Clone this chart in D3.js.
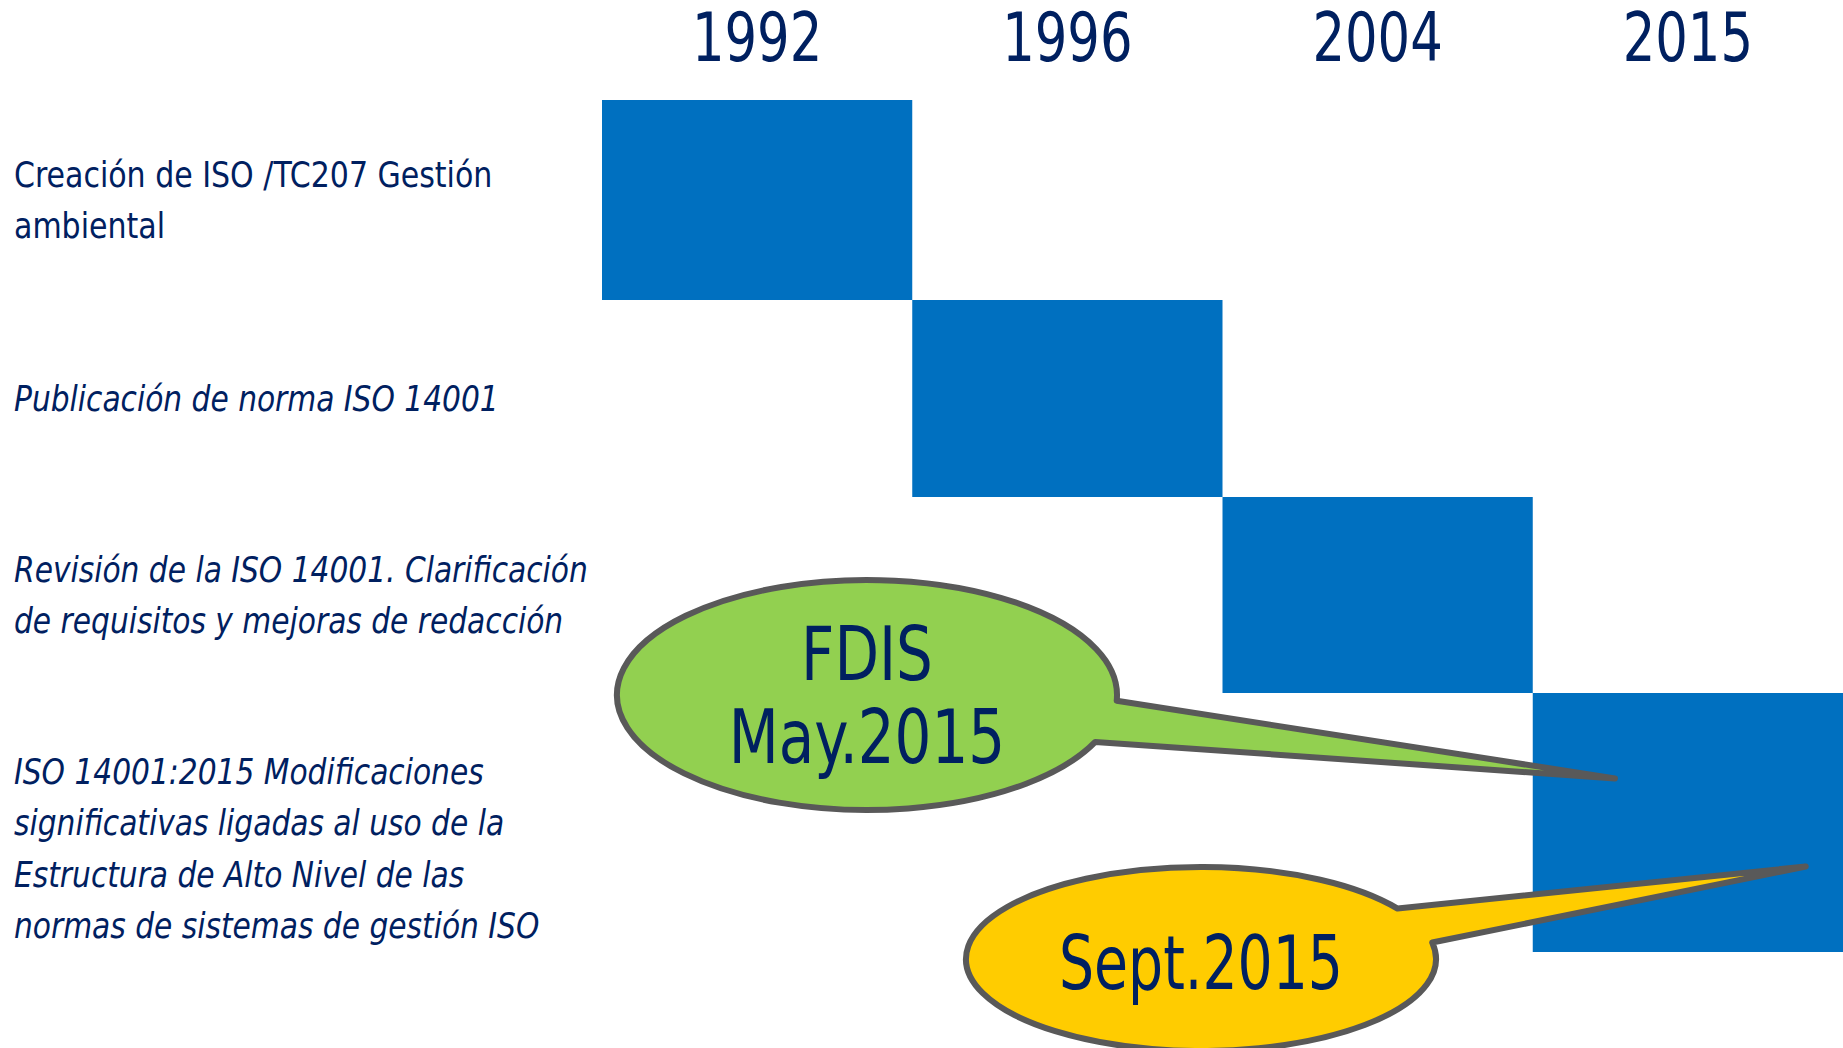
<!DOCTYPE html>
<html><head><meta charset="utf-8">
<script src="https://cdn.jsdelivr.net/npm/d3@7"></script>
<style>
html,body{margin:0;padding:0;background:#fff;overflow:hidden;}
text{font-family:"DejaVu Sans Condensed","DejaVu Sans",sans-serif;font-stretch:condensed;}
</style></head>
<body>
<svg id="chart" width="1843" height="1048"></svg>
<script>
// ---- data ----
const years = ["1992", "1996", "2004", "2015"];
const milestoneLines = [
  ["Creación de ISO /TC207 Gestión", "ambiental"],
  ["Publicación de norma ISO 14001"],
  ["Revisión de la ISO 14001. Clarificación", "de requisitos y mejoras de redacción"],
  ["ISO 14001:2015 Modificaciones", "significativas ligadas al uso de la", "Estructura de Alto Nivel de las", "normas de sistemas de gestión ISO"]
];
const milestoneItalic = [false, true, true, true];
const callouts = [
  {lines: ["FDIS", "May.2015"], fill: "#92d050"},
  {lines: ["Sept.2015"], fill: "#ffcc00"}
];

// ---- layout ----
const navy = "#002060", barColor = "#0070c0";
const svg = d3.select("#chart");

const x = d3.scaleBand().domain(years).range([602, 1843]).paddingInner(0).paddingOuter(0);
const y = d3.scaleLinear().domain([0, 1, 2, 3, 4]).range([100, 300, 497, 693, 952]);

// year headers
svg.selectAll("text.year").data(years).join("text")
  .attr("class", "year")
  .attr("transform", d => `translate(${x(d) + x.bandwidth() / 2},61) scale(0.85,1)`)
  .attr("text-anchor", "middle")
  .attr("font-size", 67)
  .attr("fill", navy)
  .text(d => d);

// bars (staircase)
svg.selectAll("rect.bar").data(years).join("rect")
  .attr("class", "bar")
  .attr("x", d => x(d))
  .attr("y", (d, i) => y(i))
  .attr("width", x.bandwidth())
  .attr("height", (d, i) => y(i + 1) - y(i))
  .attr("fill", barColor);

// row labels
const firstBaselines = [187, 411, 582, 784];
const lineGap = 51.5;
milestoneLines.forEach((lines, i) => {
  const sx = milestoneItalic[i] ? 0.93 : 0.94;
  const t = svg.append("text")
    .attr("transform", `translate(14,${firstBaselines[i]}) scale(${sx},1)`)
    .attr("font-size", 35.5)
    .attr("font-style", milestoneItalic[i] ? "italic" : "normal")
    .attr("fill", navy);
  lines.forEach((l, j) => {
    t.append("tspan").attr("x", 0).attr("y", j * lineGap).text(l);
  });
});

// callouts
const lastBar = years[3];
const bx = x(lastBar), bw = x.bandwidth(), by = y(3), bh = y(4) - y(3);
const geo = [
  {cx: 867, cy: 695, rx: 250, ry: 115,
   a1: 0.05, a2: 0.42, tip: [bx + 0.265 * bw, by + 0.33 * bh],
   textY: [680, 763], fs: 74, sx: 0.87},
  {cx: 1201, cy: 959, rx: 235, ry: 92,
   a1: -0.58, a2: -0.18, tip: [bx + 0.88 * bw, by + 0.67 * bh],
   textY: [989], fs: 74, sx: 0.83}
];

function calloutPath(g) {
  const p1 = [g.cx + g.rx * Math.cos(g.a1), g.cy + g.ry * Math.sin(g.a1)];
  const p2 = [g.cx + g.rx * Math.cos(g.a2), g.cy + g.ry * Math.sin(g.a2)];
  return `M${p2[0]},${p2[1]} A${g.rx},${g.ry} 0 1 1 ${p1[0]},${p1[1]} L${g.tip[0]},${g.tip[1]} Z`;
}

callouts.forEach((c, i) => {
  const g = geo[i];
  svg.append("path")
    .attr("d", calloutPath(g))
    .attr("fill", c.fill)
    .attr("stroke", "#595959")
    .attr("stroke-width", 6)
    .attr("stroke-linejoin", "round");
  c.lines.forEach((l, j) => {
    svg.append("text")
      .attr("transform", `translate(${g.cx},${g.textY[j]}) scale(${g.sx},1)`)
      .attr("text-anchor", "middle")
      .attr("font-size", g.fs)
      .attr("fill", navy)
      .text(l);
  });
});
</script>
</body></html>
